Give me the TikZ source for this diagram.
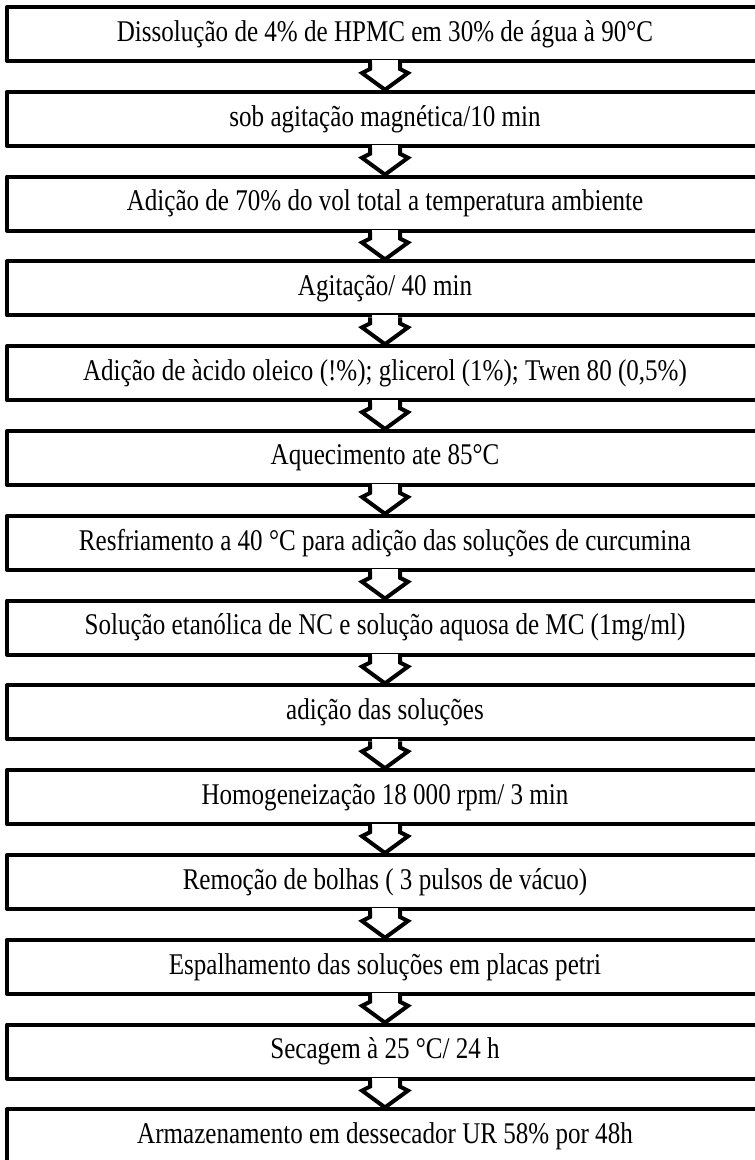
\documentclass[tikz,border=0pt]{standalone}
\usepackage{graphicx}
\usepackage{fontspec}
\setmainfont{Liberation Serif}
\usetikzlibrary{calc}
\tikzset{
  stepbox/.style={draw=black, line width=3pt, line join=round, fill=none,
    minimum width=567pt, minimum height=40.5pt, inner sep=0pt,
    font=\fontsize{18.8pt}{22pt}\selectfont},
  flowarr/.style={draw=black, line width=3pt, line join=miter},
}
\newcommand\stxt[1]{\scalebox{1}[1.2]{#1}}
\newcommand\flowarrow[2]{%
  \fill[white] ($(#1.south)+(-13,-2.6)$) rectangle ($(#1.south)+(13,2.6)$);
  \draw[flowarr] ($(#1.south)+(-15,0)$) -- ($(#1.south)+(-15,6)$) -- ($(#1.south)+(-23,10)$)
    -- (#2.north) -- ($(#1.south)+(23,10)$) -- ($(#1.south)+(15,6)$) -- ($(#1.south)+(15,0)$);
}
\begin{document}
\begin{tikzpicture}[x=0.75pt,y=-0.75pt]
\useasboundingbox (0,0) rectangle (755,1160);
\clip (0,0) rectangle (755,1160);
\node[stepbox] (b1)  at (385,34) {\stxt{Dissolução de 4\% de HPMC em 30\% de água à 90°C}};
\node[stepbox] (b2)  at (385,118.8) {\stxt{sob agitação magnética/10 min}};
\node[stepbox] (b3)  at (385,203.6) {\stxt{Adição de 70\% do vol total a temperatura ambiente}};
\node[stepbox] (b4)  at (385,288.4) {\stxt{Agitação/ 40 min}};
\node[stepbox] (b5)  at (385,373.2) {\stxt{Adição de àcido oleico (!\%); glicerol (1\%); Twen 80 (0,5\%)}};
\node[stepbox] (b6)  at (385,458) {\stxt{Aquecimento ate 85°C}};
\node[stepbox] (b7)  at (385,542.8) {\stxt{Resfriamento a 40 °C para adição das soluções de curcumina}};
\node[stepbox] (b8)  at (385,627.6) {\stxt{Solução etanólica de NC e solução aquosa de MC (1mg/ml)}};
\node[stepbox] (b9)  at (385,712.4) {\stxt{adição das soluções}};
\node[stepbox] (b10) at (385,797.2) {\stxt{Homogeneização 18 000 rpm/ 3 min}};
\node[stepbox] (b11) at (385,882) {\stxt{Remoção de bolhas ( 3 pulsos de vácuo)}};
\node[stepbox] (b12) at (385,966.8) {\stxt{Espalhamento das soluções em placas petri}};
\node[stepbox] (b13) at (385,1051.6) {\stxt{Secagem à 25 °C/ 24 h}};
\node[stepbox] (b14) at (385,1136.4) {\stxt{Armazenamento em dessecador UR 58\% por 48h}};
\flowarrow{b1}{b2}
\flowarrow{b2}{b3}
\flowarrow{b3}{b4}
\flowarrow{b4}{b5}
\flowarrow{b5}{b6}
\flowarrow{b6}{b7}
\flowarrow{b7}{b8}
\flowarrow{b8}{b9}
\flowarrow{b9}{b10}
\flowarrow{b10}{b11}
\flowarrow{b11}{b12}
\flowarrow{b12}{b13}
\flowarrow{b13}{b14}
\end{tikzpicture}
\end{document}
